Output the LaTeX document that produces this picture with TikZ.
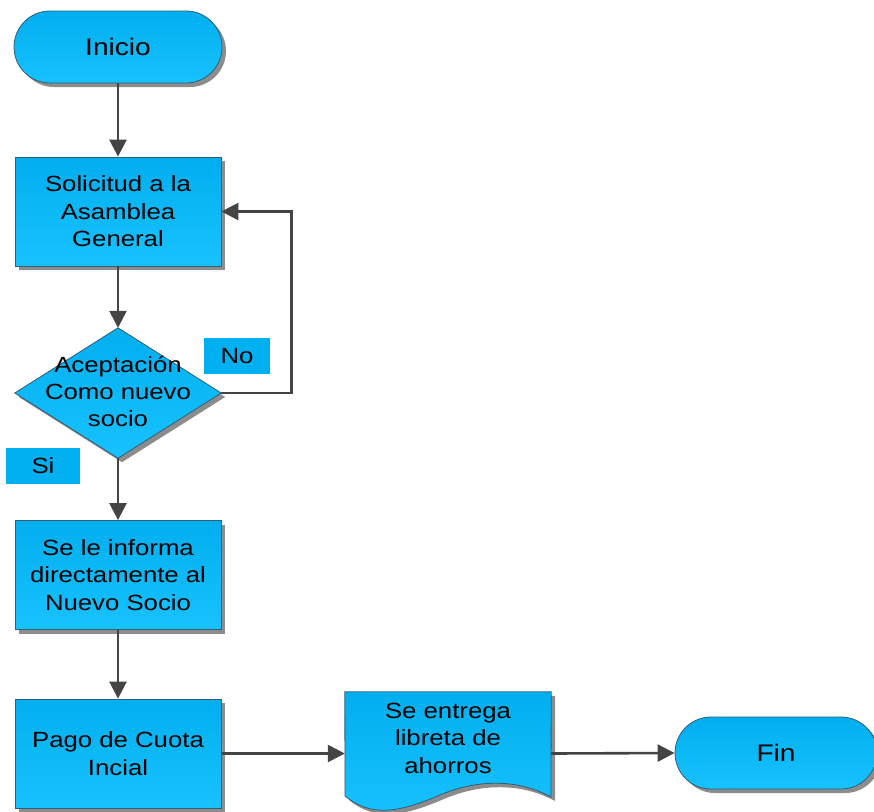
\documentclass[tikz,border=0pt]{standalone}
\usepackage{fontspec}
\setmainfont[FakeStretch=1.17]{Liberation Sans}
\usetikzlibrary{arrows.meta,shadows,calc}
\definecolor{boxtop}{HTML}{02AEEE}
\definecolor{boxbot}{HTML}{18C2FF}
\definecolor{edgec}{HTML}{2E5F78}
\definecolor{linec}{HTML}{444444}
\definecolor{tagc}{HTML}{00B0F0}
\tikzset{
  shade/.style={top color=boxtop,bottom color=boxbot,draw=edgec,line width=0.8pt,
    drop shadow={shadow xshift=4pt,shadow yshift=-4pt,fill=black!45,opacity=1}},
  procbox/.style={shade,rectangle,minimum width=206pt,minimum height=109pt,
    align=center,font=\fontsize{22}{27.5}\selectfont},
  term/.style={shade,rectangle,rounded corners=36pt,minimum height=72pt,
    align=center,font=\fontsize{24}{28}\selectfont},
  frame/.style={rectangle,minimum width=206pt,inner sep=0pt,align=center,
    font=\fontsize{22}{27.5}\selectfont},
  tag/.style={rectangle,fill=tagc,inner sep=0pt,font=\fontsize{22}{25}\selectfont},
  flow/.style={draw=linec,line width=2.6pt,-{Triangle[length=17pt,width=17pt]}},
}
\begin{document}
\begin{tikzpicture}[x=1pt,y=-1pt]
\useasboundingbox (0,0) rectangle (874,811);

% start terminal
\node[term,minimum width=208pt] (ini) at (118,47) {Inicio};

% request box
\node[procbox] (sol) at (118,211.5) {Solicitud a la\\Asamblea\\General};

% decision diamond
\node[frame,minimum height=130pt] (dec) at (118,393) {};
\path[shade] (dec.north) -- (dec.east) -- (dec.south) -- (dec.west) -- cycle;
\node[align=center,font=\fontsize{22}{27}\selectfont] (dect) at (118,392) {Aceptación\\Como nuevo\\socio};

% inform box
\node[procbox] (inf) at (118,575) {Se le informa\\directamente al\\Nuevo Socio};

% payment box
\node[procbox] (pag) at (118,753.5) {Pago de Cuota\\Incial};

% document shape
\node[frame,minimum height=100pt] (doc) at (448,742) {};
\path[shade] (doc.north west) -- (345,796)
  .. controls (372,818) and (400,812) .. (440,795)
  .. controls (480,778) and (520,780) .. (551,797)
  -- (doc.north east) -- cycle;
\node[align=center,font=\fontsize{22}{27.5}\selectfont] (doct) at (448,738) {Se entrega\\libreta de\\ahorros};

% end terminal
\node[term,minimum width=202pt] (fin) at (776,753) {Fin};

% yes / no tags
\node[tag,minimum width=66pt,minimum height=36pt] (no) at (237,356) {No};
\node[tag,minimum width=74pt,minimum height=36pt] (si) at (43,466) {Si};

% connectors
\draw[flow] (ini) -- (sol);
\draw[flow] (sol) -- (dec.north);
\draw[flow] (dec.east) -- ++(70,0) |- (sol.east);
\draw[flow] (dec.south) -- (inf);
\draw[flow] (inf) -- (pag);
\draw[flow] (pag.east) -- (pag.east -| doc.west);
\draw[flow] (pag.east -| doc.east) -- (fin.west);
\end{tikzpicture}
\end{document}
